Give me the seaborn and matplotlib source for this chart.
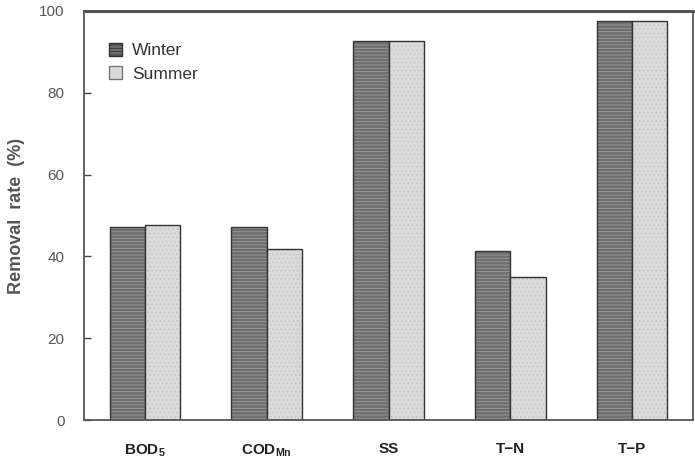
import matplotlib
matplotlib.use("Agg")
import matplotlib.pyplot as plt
import seaborn as sns
import pandas as pd
from matplotlib.patches import Patch

categories = ["BOD$_5$", "COD$_{\\mathregular{Mn}}$", "SS", "T\u2212N", "T\u2212P"]
winter = [47.3, 47.3, 92.7, 41.4, 97.5]
summer = [47.7, 41.7, 92.7, 35.0, 97.5]
yticks = [0, 20, 40, 60, 80, 100]

df = pd.DataFrame({
    "cat": categories * 2,
    "season": ["Winter"] * 5 + ["Summer"] * 5,
    "val": winter + summer,
})

sns.set_style("white")
plt.rcParams['font.family'] = ['Liberation Sans', 'DejaVu Sans']
plt.rcParams['mathtext.fontset'] = 'custom'
plt.rcParams['mathtext.rm'] = 'Liberation Sans:bold'
plt.rcParams['mathtext.it'] = 'Liberation Sans:bold'
plt.rcParams['mathtext.bf'] = 'Liberation Sans:bold'
plt.rcParams['hatch.linewidth'] = 0.6

fig = plt.figure(figsize=(6.95, 4.59), dpi=100)
ax = fig.add_axes([84/695, 1 - 420/459, 609/695, 409/459])

wc, sc = "#6f6f6f", "#dadada"
sns.barplot(data=df, x="cat", y="val", hue="season", order=categories,
            hue_order=["Winter", "Summer"], palette=[wc, sc],
            width=0.58, gap=0, ax=ax, legend=False, saturation=1,
            edgecolor="#333333", linewidth=1.0)

for i, bar in enumerate(ax.patches[:10]):
    if i < 5:
        bar.set_hatch("-----")
        bar._hatch_color = matplotlib.colors.to_rgba("#9a9a9a")
    else:
        bar.set_hatch("....")
        bar._hatch_color = matplotlib.colors.to_rgba("#c4c4c4")

ax.set_ylim(0, 100)
ax.set_xlim(-0.5, 4.5)
ax.set_yticks(yticks)
ax.set_yticklabels([str(v) for v in yticks], color="#555555", fontsize=11)
ax.set_xticks(range(5))
ax.set_xticklabels(categories, fontweight="bold", fontsize=11, color="#222222")
ax.tick_params(axis="x", which="major", length=0, pad=16)
ax.set_xticks([0.5, 1.5, 2.5, 3.5], minor=True)
ax.tick_params(axis="x", which="minor", direction="in", length=5, color="#444444", width=1)
ax.tick_params(axis="y", direction="in", length=5, color="#444444", width=1, pad=14, left=True)
ax.set_xlabel("")
ax.set_ylabel("Removal  rate  (%)", fontsize=13, fontweight="bold", color="#555555", labelpad=10)

for s in ax.spines.values():
    s.set_visible(True)
    s.set_color("#555555")
    s.set_linewidth(1.3)
ax.spines["top"].set_linewidth(2.2)

handles = [Patch(facecolor=wc, edgecolor="#333333", hatch="-----", label="Winter"),
           Patch(facecolor=sc, edgecolor="#777777", label="Summer")]
ax.legend(handles=handles, loc="upper left", bbox_to_anchor=(0.015, 0.96), frameon=False,
          fontsize=12.5, handlelength=0.75, handleheight=0.75, handletextpad=0.6,
          labelspacing=0.45, labelcolor="#333333")

fig.savefig("out.png", dpi=100)
